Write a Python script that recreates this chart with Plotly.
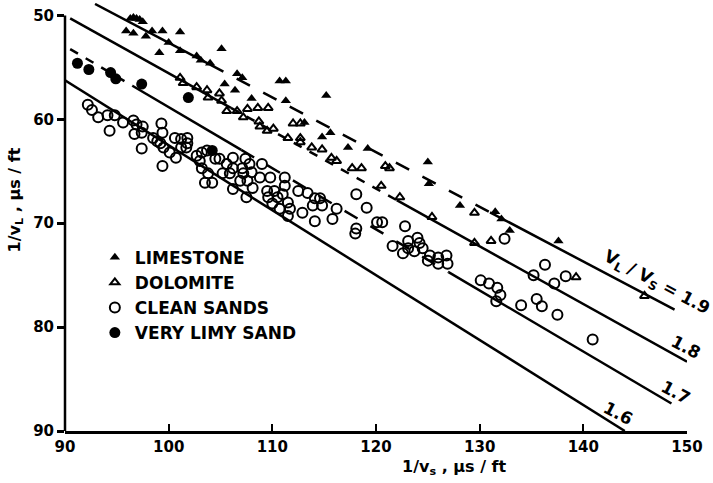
import plotly.graph_objects as go

# ---- reference lines v_L / v_S = const ----
ratios = [1.9, 1.8, 1.7, 1.6]
ratio_labels = ["V<sub>L</sub> / V<sub>S</sub> = 1.9", "1.8", "1.7", "1.6"]
# each line is drawn in pieces (x from, x to, dash style) like the hand-drawn original
line_pieces = [
    [(92.9, 104.0, "solid"), (104.0, 131.0, "longdash"), (131.0, 148.8, "solid")],
    [(90.5, 106.0, "solid"), (106.0, 122.0, "dash"), (122.0, 150.0, "solid")],
    [(90.5, 96.5, "dash"), (96.5, 107.0, "solid"), (107.0, 127.0, "longdash"),
     (127.0, 148.5, "solid")],
    [(90.0, 144.0, "solid")],
]
label_x = [147.1, 149.9, 148.9, 143.3]
label_y = [75.8, 81.9, 86.2, 88.3]

# ---- data: 1/vs (x) and 1/vL (y), microseconds per foot ----
limestone_x = [96.3, 96.6, 96.9, 97.2, 97.5, 95.9, 96.6, 97.8, 98.4, 99.4, 101.1, 99.1, 100.0,
               101.1, 102.7, 103.1, 104.0, 105.1, 106.6, 107.1, 105.4, 106.4, 108.0, 110.7,
               111.3, 111.3, 115.2, 113.1, 114.8, 115.6, 117.3, 119.2, 125.0, 125.1, 128.1,
               131.5, 132.1, 132.9, 137.6]
limestone_y = [50.3, 50.2, 50.3, 50.4, 50.6, 51.5, 51.7, 52.0, 51.5, 51.5, 51.6, 53.6, 52.6,
               53.4, 53.9, 54.3, 54.6, 53.2, 55.6, 56.0, 56.6, 57.2, 58.0, 56.3,
               56.3, 58.2, 57.7, 60.3, 61.7, 61.3, 62.7, 62.8, 64.1, 66.2, 68.3,
               68.9, 69.6, 70.7, 71.7]

dolomite_x = [101.1, 101.4, 102.7, 103.7, 103.8, 104.9, 105.1, 105.6, 106.6, 107.6, 108.6,
              109.6, 107.2, 108.7, 108.8, 109.5, 110.1, 111.5, 112.0, 112.7, 112.7, 112.7,
              113.8, 114.8, 116.2, 117.7, 118.6, 120.9, 121.3, 120.5, 122.3, 125.4, 129.5,
              129.5, 131.1, 139.3, 145.9, 115.7]
dolomite_y = [56.0, 56.5, 56.9, 57.2, 57.9, 57.5, 58.2, 59.2, 59.2, 59.0, 58.9,
              58.9, 59.8, 60.2, 60.7, 61.1, 60.9, 61.8, 60.4, 60.4, 61.8, 62.2,
              62.7, 62.9, 64.0, 64.7, 64.7, 64.5, 64.7, 66.4, 67.5, 69.4, 69.0,
              71.9, 71.7, 75.2, 77.0, 63.7]

sands_x = [92.2, 92.6, 93.2, 94.1, 94.8, 94.3, 95.6, 96.6, 96.9, 97.5, 96.7, 97.4, 97.4, 98.5,
           98.9, 99.3, 99.4, 99.2, 99.5, 99.4, 100.1, 100.7, 100.6, 101.2, 101.8, 101.8, 101.2,
           101.7, 102.7, 103.2, 103.0, 103.2, 103.7, 103.5, 104.2, 103.8, 104.5, 104.9, 105.6,
           105.2, 105.9, 106.2, 106.2, 106.2, 107.1, 107.2, 106.9, 107.4, 107.8, 108.0, 107.6,
           108.1, 107.5, 108.8, 109.0, 109.8, 109.5, 109.6, 110.0, 110.2, 110.5, 111.2, 111.2,
           111.0, 110.7, 111.5, 111.7, 111.5, 112.5, 112.9, 113.4, 114.1, 114.1, 114.6, 113.9,
           114.8, 115.8, 116.2, 118.1, 119.1, 118.1, 118.0, 120.1, 120.6, 122.8, 121.6, 122.6,
           123.1, 123.1, 124.0, 124.2, 124.5, 123.7, 125.2, 125.0, 126.0, 126.8, 126.9, 126.0,
           130.1, 130.9, 131.7, 132.0, 131.6, 134.0, 135.5, 136.0, 137.5, 136.3, 135.2, 137.2,
           138.3, 140.9, 132.4]
sands_y = [58.6, 59.1, 59.8, 59.6, 59.6, 61.1, 60.3, 60.1, 60.5, 60.7, 61.4, 61.3, 62.8, 61.8,
           62.1, 60.4, 61.3, 62.3, 62.7, 64.5, 63.2, 63.7, 61.8, 61.9, 61.8, 62.3, 62.7,
           62.7, 63.5, 63.2, 64.0, 64.7, 63.0, 66.1, 66.1, 65.2, 63.8, 63.8, 64.3,
           65.2, 65.2, 64.7, 63.7, 66.7, 64.7, 65.2, 65.9, 63.8, 64.3, 65.1, 65.9,
           66.6, 67.5, 65.6, 64.3, 65.6, 66.9, 67.5, 68.1, 66.9, 67.5, 65.6, 66.4,
           67.2, 68.6, 68.0, 68.6, 69.3, 66.9, 69.0, 67.1, 67.6, 69.8, 67.6, 68.3,
           68.3, 69.6, 68.6, 67.2, 68.5, 70.5, 71.0, 69.9, 69.9, 70.3, 72.2, 72.9,
           71.7, 72.4, 71.4, 71.9, 72.4, 72.7, 73.1, 73.6, 73.3, 73.1, 73.9, 73.9,
           75.5, 75.8, 76.2, 76.9, 77.5, 77.9, 77.3, 78.0, 78.8, 74.0, 75.0, 75.8,
           75.1, 81.2, 71.5]

limy_x = [91.2, 92.3, 94.4, 94.9, 97.4, 101.9, 104.2]
limy_y = [54.6, 55.2, 55.5, 56.1, 56.6, 57.9, 63.0]

x_ticks = [90, 100, 110, 120, 130, 140, 150]
y_ticks = [50, 60, 70, 80, 90]
x_range = [90, 150]
y_range = [90, 48.8]

FONT = "DejaVu Sans"
fig = go.Figure()

for r, pieces in zip(ratios, line_pieces):
    for x0, x1, dash in pieces:
        fig.add_trace(go.Scatter(x=[x0, x1], y=[x0 / r, x1 / r], mode="lines",
                                 line=dict(color="black", width=2.5, dash=dash),
                                 showlegend=False, hoverinfo="skip"))

fig.add_trace(go.Scatter(x=limestone_x, y=limestone_y, mode="markers", name="LIMESTONE",
                         legendgroup="a",
                         marker=dict(symbol="triangle-up", size=9, color="black")))
fig.add_trace(go.Scatter(x=dolomite_x, y=dolomite_y, mode="markers", name="DOLOMITE",
                         legendgroup="b",
                         marker=dict(symbol="triangle-up-open", size=8, color="black",
                                     line=dict(width=2, color="black"))))
fig.add_trace(go.Scatter(x=sands_x, y=sands_y, mode="markers", name="CLEAN SANDS",
                         legendgroup="c",
                         marker=dict(symbol="circle-open", size=10, color="black",
                                     line=dict(width=2, color="black"))))
fig.add_trace(go.Scatter(x=limy_x, y=limy_y, mode="markers", name="VERY LIMY SAND",
                         legendgroup="d",
                         marker=dict(symbol="circle", size=11, color="black")))

annotations = []
for t, lx, ly in zip(ratio_labels, label_x, label_y):
    annotations.append(dict(x=lx, y=ly, xref="x", yref="y", text=t, showarrow=False,
                            textangle=28, xanchor="center", yanchor="middle",
                            font=dict(family=FONT, size=17, color="black", weight="bold")))
annotations.append(dict(x=127.6, y=0, xref="x", yref="paper", yshift=-36,
                        xanchor="center", yanchor="middle",
                        text="1/v<sub>s</sub> , μs / ft", showarrow=False,
                        font=dict(family=FONT, size=16, color="black", weight="bold")))
annotations.append(dict(x=0, y=67.8, xref="paper", yref="y", xshift=-50,
                        xanchor="center", yanchor="middle",
                        text="1/v<sub>L</sub> , μs / ft", showarrow=False, textangle=-90,
                        font=dict(family=FONT, size=16, color="black", weight="bold")))

y50_dom = (y_range[0] - 50) / (y_range[0] - y_range[1])
fig.add_shape(type="line", xref="x domain", yref="y domain", x0=0, x1=0, y0=0, y1=y50_dom,
              line=dict(color="black", width=2.5))

fig.update_layout(
    width=713, height=483,
    margin=dict(l=65, r=26, t=3, b=52),
    paper_bgcolor="white", plot_bgcolor="white",
    font=dict(family=FONT, color="black"),
    annotations=annotations,
    showlegend=True,
    legend=dict(x=0.048, y=0.447, xanchor="left", yanchor="top", bgcolor="rgba(0,0,0,0)",
                font=dict(family=FONT, size=17, color="black", weight="bold"),
                tracegroupgap=0, traceorder="grouped"),
    xaxis=dict(range=x_range, tickvals=x_ticks, ticks="inside", ticklen=7, tickwidth=2,
               tickcolor="black", showline=True, linewidth=2.5, linecolor="black",
               showgrid=False, zeroline=False,
               tickfont=dict(family=FONT, size=15, color="black", weight="bold")),
    yaxis=dict(range=y_range, tickvals=y_ticks, ticks="outside", ticklen=7, tickwidth=2.5,
               tickcolor="black", showline=False, showgrid=False, zeroline=False,
               tickfont=dict(family=FONT, size=15, color="black", weight="bold")),
)

fig.write_html("out.html")
